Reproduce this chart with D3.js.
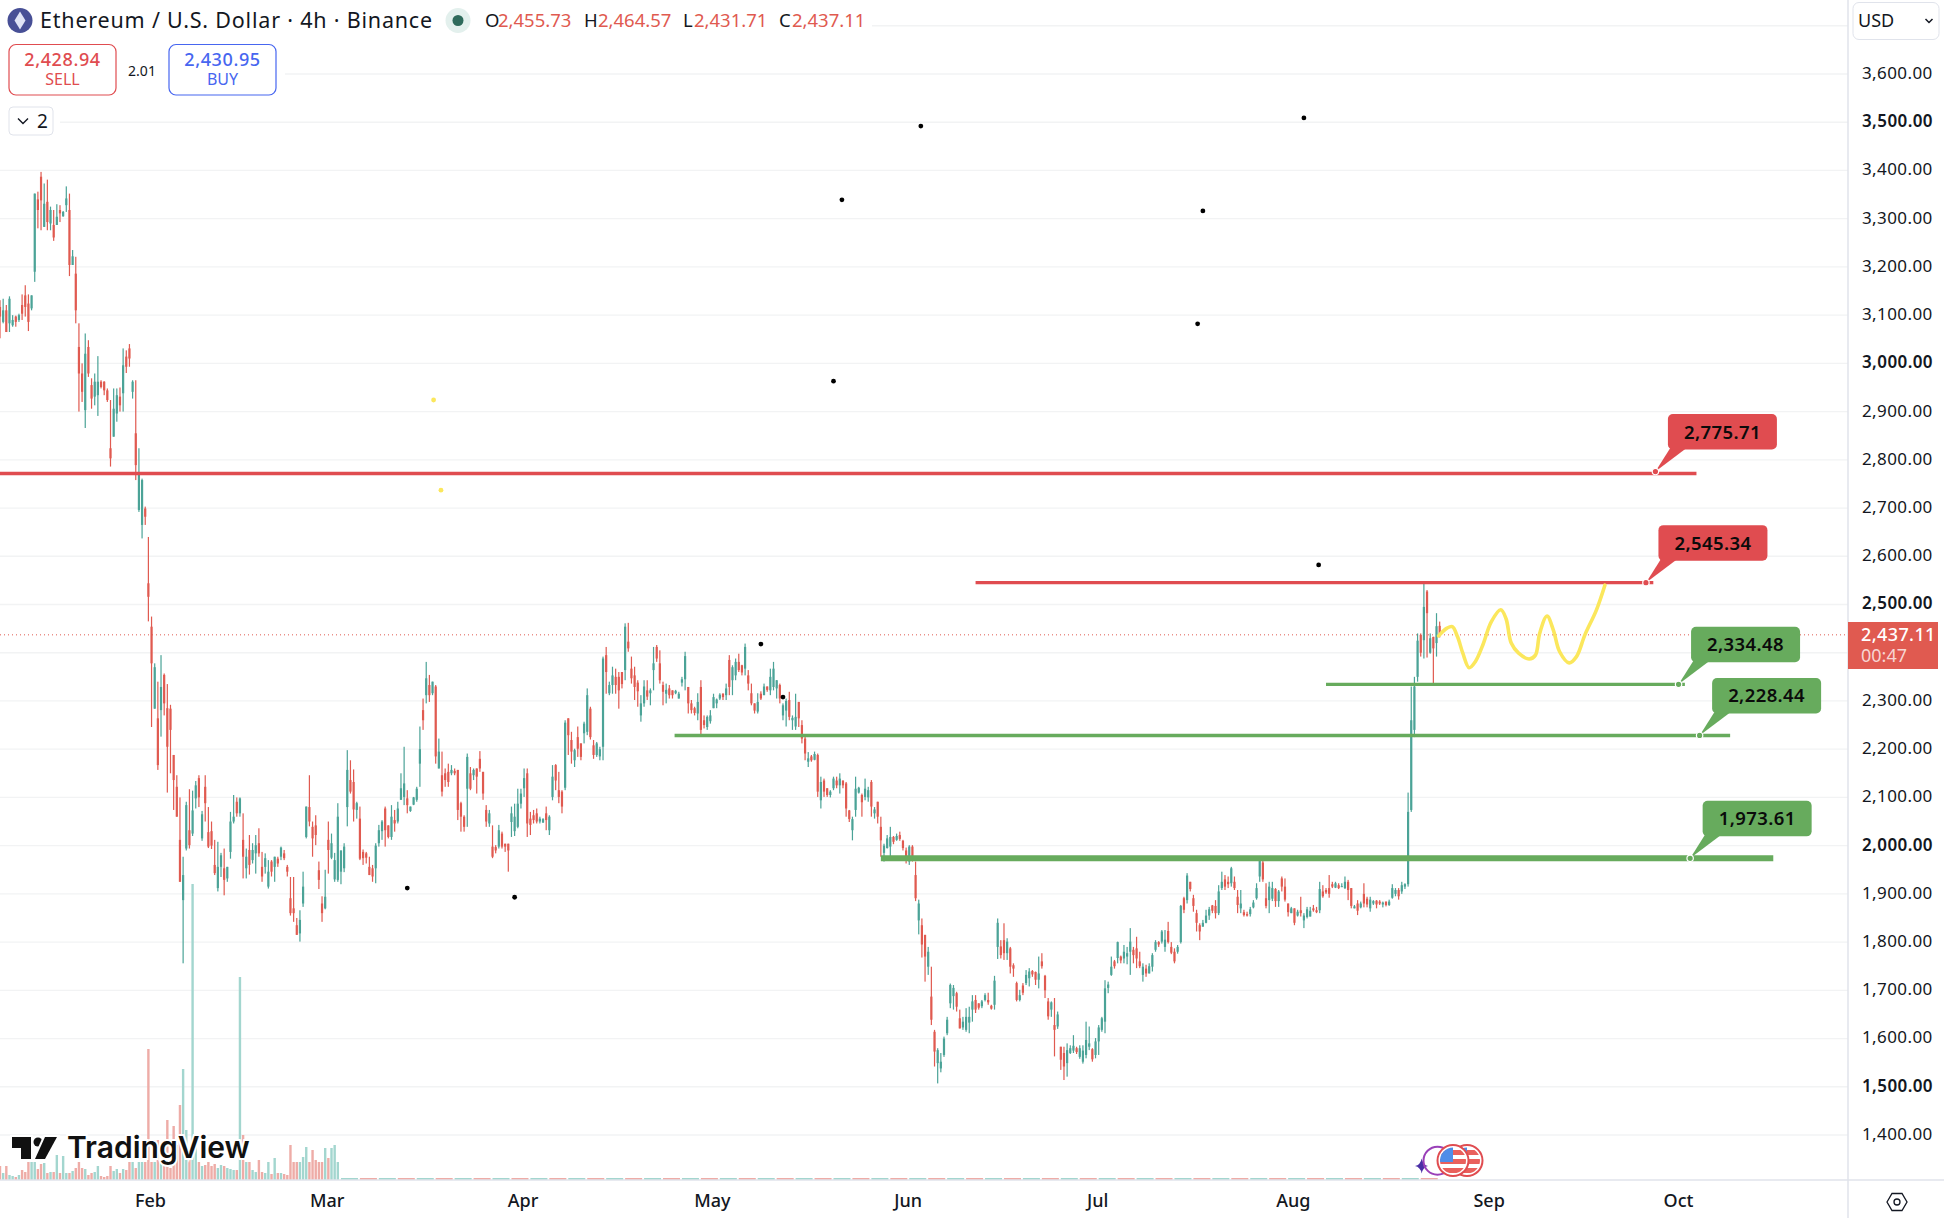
<!DOCTYPE html>
<html>
<head>
<meta charset="utf-8">
<script src="https://cdn.jsdelivr.net/npm/d3@7"></script>
<style>
  body { margin: 0; background: #fff; }
  svg { display: block; font-family: "Noto Sans", sans-serif; }
  .domain { display: none; }
</style>
</head>
<body>
<div id="chart"></div>
<script>
// candles, one every 3 bars (12h)
const opens = [
  3117,3086,3110,3083,3079,3097,3090,3121,3141,3124,
  3114,3190,3340,3387,3283,3335,3290,3287,3287,3318,
  3305,3328,3318,3204,3186,3034,2979,2903,3034,2955,
  2931,2934,2962,2962,2944,2824,2848,2896,2931,2938,
  3014,3031,2941,2855,2696,2665,2699,2544,2454,2284,
  2264,2281,2354,2285,2284,2188,2122,2012,1887,1994,
  2032,2025,2098,2140,2015,2122,2028,2030,1960,1912,
  1956,1953,1932,1987,2050,2091,2067,2012,1953,1991,
  1970,1984,2005,1956,1956,1915,1967,1956,1973,1977,
  1984,1956,1891,1870,1835,1818,1880,2018,2080,2039,
  2042,1949,1880,1870,2012,1975,1930,1929,1946,1953,
  2080,2136,2132,2074,2056,1987,1984,1956,1953,1953,
  2005,2030,2077,2042,2018,2053,2050,2095,2101,2098,
  2072,2085,2095,2170,2281,2312,2333,2316,2330,2160,
  2146,2150,2153,2150,2155,2157,2088,2060,2118,2150,
  2146,2160,2180,2153,2074,2046,1998,1997,1998,2025,
  2004,2004,2049,2030,2039,2087,2119,2150,2056,2063,
  2067,2050,2048,2067,2032,2101,2167,2115,2112,2120,
  2264,2219,2177,2225,2212,2233,2236,2284,2208,2188,
  2185,2205,2395,2316,2333,2350,2350,2360,2364,2423,
  2367,2353,2338,2270,2295,2322,2316,2364,2412,2378,
  2333,2315,2326,2322,2316,2305,2338,2345,2329,2295,
  2285,2274,2329,2260,2246,2258,2285,2295,2305,2315,
  2312,2385,2343,2353,2381,2374,2367,2353,2316,2295,
  2278,2315,2312,2330,2322,2329,2326,2333,2270,2280,
  2302,2260,2247,2298,2250,2222,2174,2185,2178,2188,
  2094,2135,2119,2105,2119,2135,2125,2135,2129,2073,
  2032,2074,2110,2105,2101,2100,2132,2067,2091,2039,
  1985,1995,1998,2018,2012,2022,2010,1990,1967,1998,
  1939,1845,1835,1815,1749,1687,1614,1549,1538,1566,
  1611,1673,1688,1694,1642,1623,1618,1633,1660,1680,
  1673,1667,1680,1680,1668,1670,1790,1791,1804,1777,
  1787,1752,1715,1680,1710,1715,1725,1740,1738,1722,
  1760,1730,1677,1660,1628,1625,1583,1570,1549,1570,
  1575,1580,1562,1552,1566,1583,1578,1566,1594,1618,
  1635,1705,1732,1760,1767,1770,1766,1770,1780,1784,
  1787,1760,1732,1745,1735,1749,1784,1800,1801,1790,
  1823,1790,1780,1780,1800,1891,1887,1925,1891,1860,
  1835,1832,1840,1855,1876,1875,1860,1912,1930,1925,
  1922,1925,1894,1870,1862,1858,1858,1872,1891,1936,
  1965,1891,1887,1890,1910,1885,1932,1915,1880,1860,
  1870,1855,1866,1845,1852,1853,1870,1866,1866,1905,
  1908,1912,1920,1913,1918,1915,1912,1925,1912,1870,
  1880,1872,1900,1890,1870,1880,1886,1884,1878,1884,
  1877,1892,1900,1908,1905,1915,1920,2074,2240,2350,
  2437,2426,2527,2400,2433,2420,2455.73
];
const highs = [
  3131,3134,3121,3139,3100,3099,3103,3143,3162,3143,
  3141,3352,3356,3397,3373,3381,3325,3318,3330,3328,
  3316,3367,3352,3235,3221,3083,3000,3062,3048,2969,
  2979,3015,2965,2963,2948,2924,2948,2948,2950,3031,
  3027,3040,2965,2965,2824,2761,2703,2640,2475,2378,
  2340,2395,2357,2335,2292,2188,2146,2100,1977,2091,
  2117,2114,2134,2146,2072,2146,2080,2050,2012,2008,
  1985,1994,1956,2070,2105,2100,2100,2067,1994,2022,
  2005,2022,2036,1987,1984,1970,1970,1977,1977,1998,
  1991,1960,1935,1935,1850,1866,1946,2081,2146,2050,
  2063,1967,1895,1950,2050,2025,1985,2088,1990,2005,
  2198,2177,2158,2091,2081,1992,1987,1977,1960,2005,
  2043,2053,2081,2042,2084,2074,2091,2150,2205,2115,
  2081,2101,2122,2247,2305,2381,2354,2340,2333,2222,
  2195,2160,2170,2167,2160,2157,2091,2063,2191,2163,
  2160,2160,2196,2153,2084,2074,2042,2001,2043,2029,
  2004,2004,2081,2087,2118,2118,2160,2160,2070,2074,
  2077,2060,2057,2081,2063,2167,2169,2153,2115,2260,
  2264,2236,2201,2247,2212,2257,2326,2288,2219,2215,
  2205,2392,2412,2340,2371,2367,2360,2360,2461,2462,
  2392,2371,2343,2312,2343,2343,2326,2412,2416,2405,
  2340,2336,2333,2322,2323,2319,2350,2402,2329,2302,
  2288,2316,2343,2270,2270,2281,2315,2305,2316,2316,
  2336,2395,2374,2388,2398,2375,2419,2364,2336,2295,
  2316,2320,2336,2330,2367,2381,2343,2336,2295,2305,
  2319,2270,2315,2298,2260,2229,2194,2188,2195,2191,
  2143,2139,2119,2115,2143,2143,2150,2135,2132,2074,
  2060,2143,2122,2108,2139,2122,2136,2080,2091,2060,
  2004,2022,2039,2020,2025,2029,2012,1996,2001,2001,
  1967,1888,1849,1815,1790,1749,1618,1580,1570,1604,
  1645,1714,1711,1697,1660,1645,1663,1666,1690,1690,
  1673,1680,1694,1695,1670,1730,1849,1804,1839,1808,
  1790,1756,1718,1701,1715,1742,1746,1742,1739,1770,
  1777,1732,1684,1677,1684,1656,1583,1583,1590,1586,
  1607,1583,1586,1586,1635,1625,1580,1601,1628,1645,
  1721,1718,1770,1763,1801,1772,1794,1790,1829,1790,
  1811,1780,1756,1753,1756,1777,1804,1802,1825,1825,
  1842,1800,1787,1794,1877,1894,1943,1925,1898,1867,
  1839,1846,1867,1873,1877,1887,1918,1946,1939,1936,
  1956,1936,1908,1908,1867,1863,1873,1887,1922,1977,
  1970,1922,1925,1925,1912,1908,1936,1932,1880,1873,
  1870,1867,1894,1860,1873,1873,1877,1873,1925,1918,
  1912,1939,1925,1925,1922,1922,1936,1929,1912,1877,
  1887,1884,1922,1894,1894,1887,1887,1887,1884,1884,
  1888,1920,1912,1912,1925,1922,2110,2330,2350,2440,
  2440,2544,2530,2440,2433,2482,2464.57
];
const lows = [
  3052,3083,3065,3065,3076,3076,3086,3090,3097,3067,
  3110,3169,3280,3276,3283,3276,3276,3254,3287,3293,
  3304,3314,3181,3204,3083,2900,2920,2866,2972,2906,
  2913,2891,2948,2934,2920,2786,2848,2879,2900,2900,
  2980,2993,2927,2758,2692,2637,2665,2465,2246,2284,
  2157,2226,2270,2110,2150,2074,2060,1925,1756,1990,
  1994,2020,2077,2080,2010,2050,1995,1993,1939,1905,
  1935,1897,1925,1973,2046,2060,2060,1932,1932,1940,
  1963,1942,1977,1925,1942,1911,1936,1925,1956,1970,
  1970,1936,1855,1842,1815,1801,1873,2015,2040,1977,
  2001,1910,1842,1868,1942,1972,1925,1925,1920,1945,
  2040,2108,2050,2056,1970,1960,1963,1939,1925,1922,
  1998,2012,1998,2015,2012,2029,2046,2095,2084,2067,
  2070,2084,2091,2122,2240,2295,2298,2312,2170,2160,
  2102,2122,2122,2146,2146,2053,2029,2029,2039,2115,
  2136,2108,2153,2095,2039,2039,1974,1984,1994,1994,
  1987,1946,2018,2020,2036,2077,2101,2018,2022,2046,
  2046,2046,2047,2032,2022,2094,2115,2088,2067,2115,
  2188,2170,2163,2184,2177,2212,2229,2220,2180,2184,
  2177,2177,2315,2312,2315,2315,2284,2326,2343,2402,
  2336,2302,2288,2257,2288,2302,2291,2322,2381,2336,
  2291,2295,2305,2305,2314,2305,2330,2322,2274,2274,
  2270,2260,2226,2243,2240,2253,2285,2285,2302,2302,
  2302,2312,2312,2343,2360,2353,2353,2322,2291,2274,
  2274,2302,2312,2319,2312,2322,2305,2295,2260,2247,
  2260,2240,2240,2246,2212,2177,2163,2174,2177,2101,
  2077,2101,2101,2100,2115,2119,2108,2119,2060,2049,
  2011,2060,2108,2060,2094,2091,2060,2056,2046,1977,
  1967,1994,1976,2003,2010,2010,1990,1963,1960,1967,
  1885,1816,1768,1718,1732,1628,1542,1507,1530,1562,
  1607,1663,1660,1656,1621,1618,1614,1611,1635,1653,
  1660,1663,1677,1670,1660,1660,1765,1766,1763,1763,
  1735,1728,1677,1677,1690,1711,1708,1728,1711,1704,
  1745,1684,1639,1645,1563,1620,1535,1514,1521,1568,
  1570,1568,1558,1548,1559,1576,1552,1559,1566,1614,
  1611,1694,1730,1745,1756,1756,1756,1754,1732,1756,
  1746,1746,1718,1728,1735,1739,1780,1790,1797,1780,
  1797,1775,1756,1776,1797,1860,1880,1905,1863,1822,
  1804,1832,1839,1846,1860,1849,1856,1908,1908,1912,
  1915,1908,1860,1860,1853,1853,1853,1870,1888,1925,
  1925,1870,1860,1885,1873,1873,1905,1884,1853,1860,
  1835,1853,1853,1829,1849,1853,1863,1860,1860,1892,
  1900,1892,1912,1912,1910,1914,1910,1887,1870,1870,
  1856,1870,1872,1872,1863,1877,1870,1877,1872,1874,
  1875,1890,1895,1888,1900,1910,1915,2070,2225,2340,
  2392,2388,2390,2398,2337,2392,2431.71
];
const closes = [
  3097,3110,3065,3134,3090,3086,3100,3103,3117,3086,
  3141,3352,3318,3338,3331,3293,3318,3261,3304,3311,
  3314,3342,3204,3222,3110,2979,2941,3020,2979,2927,
  2962,2962,2951,2944,2924,2803,2906,2934,2913,2996,
  2993,3010,2962,2789,2772,2758,2682,2516,2378,2370,
  2167,2329,2295,2205,2240,2136,2060,1925,1939,2084,
  2001,2073,2125,2100,2065,2088,1998,2000,1943,1956,
  1980,1929,1956,2050,2060,2067,2098,1977,1977,1960,
  1991,2001,1984,1936,1974,1946,1946,1977,1963,1996,
  1974,1946,1860,1860,1815,1846,1915,2081,2050,2015,
  2022,1929,1860,1894,1991,2005,1970,2060,1990,1998,
  2157,2112,2075,2088,1973,1974,1975,1939,1936,2000,
  2032,2050,2032,2018,2060,2046,2077,2119,2129,2084,
  2081,2100,2118,2200,2260,2347,2312,2340,2185,2195,
  2112,2136,2132,2157,2150,2074,2060,2039,2184,2118,
  2157,2143,2160,2108,2050,2067,1977,1990,2032,1998,
  1998,1990,2067,2060,2087,2108,2140,2046,2043,2053,
  2050,2056,2055,2053,2060,2143,2135,2101,2081,2255,
  2229,2195,2198,2201,2184,2253,2312,2225,2188,2212,
  2200,2388,2360,2333,2353,2333,2322,2335,2454,2409,
  2347,2329,2320,2295,2330,2309,2322,2378,2388,2343,
  2319,2323,2312,2312,2321,2315,2345,2393,2295,2281,
  2275,2298,2240,2250,2267,2270,2308,2303,2313,2308,
  2326,2329,2370,2381,2364,2359,2412,2336,2295,2280,
  2298,2305,2330,2323,2350,2367,2343,2305,2291,2300,
  2267,2265,2267,2264,2222,2191,2181,2177,2190,2112,
  2132,2112,2105,2112,2139,2125,2139,2125,2077,2055,
  2055,2118,2120,2090,2118,2115,2081,2075,2060,2011,
  2000,2015,2018,2008,2020,2014,1995,1970,1998,1975,
  1891,1880,1795,1770,1780,1639,1573,1576,1552,1600,
  1639,1711,1705,1666,1621,1635,1645,1645,1677,1660,
  1664,1677,1690,1675,1662,1720,1840,1773,1777,1801,
  1749,1745,1680,1690,1695,1732,1739,1733,1722,1735,
  1750,1700,1646,1675,1618,1650,1556,1542,1576,1580,
  1585,1572,1580,1575,1597,1590,1557,1594,1623,1642,
  1704,1712,1749,1750,1800,1762,1780,1777,1801,1773,
  1766,1750,1749,1735,1750,1773,1800,1795,1822,1805,
  1800,1778,1760,1790,1875,1867,1938,1910,1875,1840,
  1822,1840,1855,1868,1865,1860,1905,1925,1915,1920,
  1953,1912,1877,1880,1856,1855,1868,1882,1912,1970,
  1930,1875,1915,1912,1885,1905,1915,1888,1862,1870,
  1840,1863,1860,1855,1868,1865,1866,1862,1910,1895,
  1903,1900,1915,1922,1912,1916,1925,1908,1875,1874,
  1865,1880,1880,1878,1888,1885,1878,1880,1882,1877,
  1884,1912,1908,1895,1918,1920,2070,2260,2330,2425,
  2400,2495,2482,2430,2409,2455,2437.11
];

// volume for the first candles, the rest of the history is almost flat
const volumes = [
  14,7,14,5,4,3,5,10,8,18,
  18,18,11,16,17,7,8,8,25,7,
  24,7,7,9,12,18,12,11,5,7,
  8,14,4,3,4,14,9,11,7,11,
  10,18,18,12,18,18,18,131,18,18,
  40,20,14,60,12,54,35,75,111,50,
  30,296,45,18,14,15,18,14,16,12,
  15,14,12,11,10,10,203,45,18,18,
  10,8,20,8,7,18,6,22,7,7,
  6,5,35,18,18,18,23,33,18,30,
  20,18,18,32,22,32,35,18
];
const tailVolumes = [
  2,2,2,2,2,2,2,2,2,2,2,2,2,2,2,2,2,2,2,2,
  2,2,2,2,2,2,2,2,2,2,2,2,2,2,2,2,2,2,2,2,
  2,2,2,2,2,2,2,2,2,2,2,2,2,2,2,2,2,2
];

// 2,400.00 sits behind the price tag so it has no label
const priceTicks = [3600,3500,3400,3300,3200,3100,3000,2900,2800,2700,2600,2500,2300,2200,2100,2000,1900,1800,1700,1600,1500,1400];
const gridPrices = [3700,3600,3500,3400,3300,3200,3100,3000,2900,2800,2700,2600,2500,2400,2300,2200,2100,2000,1900,1800,1700,1600,1500,1400];
const monthTicks = [
  new Date(Date.UTC(2025,1,1)), new Date(Date.UTC(2025,2,1)), new Date(Date.UTC(2025,3,1)),
  new Date(Date.UTC(2025,4,1)), new Date(Date.UTC(2025,5,1)), new Date(Date.UTC(2025,6,1)),
  new Date(Date.UTC(2025,7,1)), new Date(Date.UTC(2025,8,1)), new Date(Date.UTC(2025,9,1))
];

// drawn levels: price, first bar, last bar, bar of the callout anchor
const levelPrices = [2775.71, 2545.34, 2334.48, 2228.44, 1973.61];
const levelStartBars = [0, 927, 1260, 641, 837];
const levelEndBars = [1612, 1571, 1601, 1644, 1685];
const levelAnchorBars = [1573, 1564, 1595, 1615, 1606];

// loose dots left on the chart
const blackDotBars = [875, 800, 1239, 1143, 1138, 792, 1253, 723, 744, 387, 489];
const blackDotPrices = [3492, 3339, 3509, 3316, 3082, 2963, 2582, 2418, 2308, 1912, 1893];
const yellowDotBars = [412, 419];
const yellowDotPrices = [2924, 2737];

// hand drawn yellow projection
const pathBars = [1367,1375,1380,1385,1390,1396,1402,1409,1417,1426,1431,1436,1443,1453,1459,1463,1470,1476,1482,1491,1498,1506,1517,1525];
const pathPrices = [2435,2451,2454,2433,2399,2369,2382,2416,2464,2489,2471,2420,2399,2387,2395,2440,2476,2447,2402,2379,2392,2437,2489,2540];

const lastPrice = 2437.11;

const width = 1944, height = 1218;
const plotRight = 1848, plotBottom = 1180;
const upColor = "#4ba397", downColor = "#e05a50";
const upVol = "#a3d6cf", downVol = "#eeaca7";
const redLevel = "#e04c50", greenLevel = "#67ab5d";
const textColor = "#131722";

const svg = d3.select("#chart").append("svg")
    .attr("width", width)
    .attr("height", height);

const startDate = new Date(Date.UTC(2025,0,8,6));
const barDate = b => d3.utcHour.offset(startDate, b * 4);

const x = d3.scaleUtc()
    .domain([startDate, barDate(1756)])
    .range([0, plotRight]);
const y = d3.scaleLinear()
    .domain([3600, 1400])
    .range([74, 1135]);
const yVol = d3.scaleLinear()
    .domain([0, 300])
    .range([plotBottom, plotBottom - 300]);
const xBar = b => x(barDate(b));

const candles = opens.map((o, i) => ({
    bar: i * 3, open: o, high: highs[i], low: lows[i], close: closes[i],
    up: closes[i] >= o
}));

// grid
svg.append("g").selectAll("line")
    .data(gridPrices)
    .enter().append("line")
    .attr("x1", 0)
    .attr("x2", plotRight)
    .attr("y1", d => y(d))
    .attr("y2", d => y(d))
    .attr("stroke", "#f2f3f4")
    .attr("stroke-width", 1.3);

// volume
svg.append("g").selectAll("rect")
    .data(volumes)
    .enter().append("rect")
    .attr("x", (d, i) => xBar(i * 3) - 1.2)
    .attr("width", 2.4)
    .attr("y", d => yVol(d))
    .attr("height", d => yVol(0) - yVol(d))
    .attr("fill", (d, i) => candles[i].up ? upVol : downVol);

svg.append("g").selectAll("rect")
    .data(tailVolumes)
    .enter().append("rect")
    .attr("x", (d, i) => xBar(volumes.length * 3 + i * 18))
    .attr("width", 17)
    .attr("y", d => yVol(d))
    .attr("height", d => yVol(0) - yVol(d))
    .attr("fill", (d, i) => i % 2 ? downVol : upVol);

// last price line
svg.append("line")
    .attr("x1", 0)
    .attr("x2", plotRight)
    .attr("y1", y(lastPrice))
    .attr("y2", y(lastPrice))
    .attr("stroke", downColor)
    .attr("stroke-width", 1)
    .attr("stroke-dasharray", "1 3");

// candles
const candleG = svg.append("g");
candleG.selectAll(".wick")
    .data(candles)
    .enter().append("rect")
    .attr("class", "wick")
    .attr("x", d => xBar(d.bar) - 0.6)
    .attr("width", 1.2)
    .attr("y", d => y(d.high))
    .attr("height", d => y(d.low) - y(d.high))
    .attr("fill", d => d.up ? upColor : downColor);
candleG.selectAll(".body")
    .data(candles)
    .enter().append("rect")
    .attr("class", "body")
    .attr("x", d => xBar(d.bar) - 1.1)
    .attr("width", 2.2)
    .attr("y", d => y(Math.max(d.open, d.close)))
    .attr("height", d => Math.max(1, Math.abs(y(d.open) - y(d.close))))
    .attr("fill", d => d.up ? upColor : downColor);

// drawn levels
levelPrices.forEach((p, i) => {
    const color = p > lastPrice ? redLevel : greenLevel;
    const ax = xBar(levelAnchorBars[i]);
    const ay = y(p);

    svg.append("line")
        .attr("x1", xBar(levelStartBars[i]))
        .attr("x2", xBar(levelEndBars[i]))
        .attr("y1", ay + (i === 0 ? 2 : 0))
        .attr("y2", ay + (i === 0 ? 2 : 0))
        .attr("stroke", color)
        .attr("stroke-width", i === 4 ? 6 : 3.4);

    const boxX = ax + 12.5, boxY = ay - 57.5;
    svg.append("path")
        .attr("d", `M${ax},${ay}L${boxX + 3},${boxY + 33}L${boxX + 20},${boxY + 33}Z`)
        .attr("fill", color);
    svg.append("rect")
        .attr("x", boxX)
        .attr("y", boxY)
        .attr("width", 109)
        .attr("height", 35.5)
        .attr("rx", 5)
        .attr("fill", color);
    svg.append("text")
        .attr("x", boxX + 54.5)
        .attr("y", boxY + 18)
        .attr("dy", "0.35em")
        .attr("text-anchor", "middle")
        .style("font-size", "18.5px")
        .style("font-weight", 600)
        .style("letter-spacing", "0.4px")
        .attr("fill", "#0b0b0b")
        .text(d3.format(",.2f")(p));
    svg.append("circle")
        .attr("cx", ax)
        .attr("cy", ay)
        .attr("r", 3.2)
        .attr("fill", color)
        .attr("stroke", "#fff")
        .attr("stroke-width", 1.2);
});

// yellow projection
svg.append("path")
    .datum(pathBars.map((b, i) => [b, pathPrices[i]]))
    .attr("d", d3.line().x(d => xBar(d[0])).y(d => y(d[1])).curve(d3.curveCatmullRom))
    .attr("fill", "none")
    .attr("stroke", "#fbe75c")
    .attr("stroke-width", 3.6)
    .attr("stroke-linecap", "round");

// loose dots
svg.append("g").selectAll("circle")
    .data(blackDotBars)
    .enter().append("circle")
    .attr("cx", d => xBar(d))
    .attr("cy", (d, i) => y(blackDotPrices[i]))
    .attr("r", 2.4)
    .attr("fill", "#000");
svg.append("g").selectAll("circle")
    .data(yellowDotBars)
    .enter().append("circle")
    .attr("cx", d => xBar(d))
    .attr("cy", (d, i) => y(yellowDotPrices[i]))
    .attr("r", 2.4)
    .attr("fill", "#fbe75c");

// TradingView watermark
const logo = svg.append("g")
    .attr("fill", "#111")
    .attr("stroke", "#fff")
    .attr("stroke-width", 4)
    .style("paint-order", "stroke");
logo.append("path").attr("d", "M12,1137H31V1159H21V1148H12Z");
logo.append("circle").attr("cx", 38).attr("cy", 1142).attr("r", 4.5);
logo.append("path").attr("d", "M45,1137H57L45,1159H35Z");
logo.append("text")
    .attr("x", 67)
    .attr("y", 1158)
    .style("font-family", "Inter, sans-serif")
    .style("font-size", "30px")
    .style("font-weight", 600)
    .text("TradingView");

// event icons
const defs = svg.append("defs");
[1467, 1453].forEach((cx, i) => {
    defs.append("clipPath").attr("id", "flag" + i)
        .append("circle").attr("cx", cx).attr("cy", 1160.6).attr("r", 13);
});
svg.append("path")
    .attr("d", "M1421.7,1158.5Q1423,1165 1428,1166Q1423,1167 1421.7,1173.5Q1420.4,1167 1415,1166Q1420.4,1165 1421.7,1158.5Z")
    .attr("fill", "#4a2fa6");
svg.append("circle")
    .attr("cx", 1437.5).attr("cy", 1160.7).attr("r", 14)
    .attr("fill", "none").attr("stroke", "#9a40b8").attr("stroke-width", 2);
[1467, 1453].forEach((cx, i) => {
    const flag = svg.append("g");
    flag.append("circle").attr("cx", cx).attr("cy", 1160.6).attr("r", 15.5)
        .attr("fill", "#fff").attr("stroke", "#e04c50").attr("stroke-width", 2);
    const inner = flag.append("g").attr("clip-path", `url(#flag${i})`);
    [1150, 1159, 1168].forEach(sy => {
        inner.append("rect").attr("x", cx - 14).attr("y", sy).attr("width", 28).attr("height", 5).attr("fill", "#e9605c");
    });
    inner.append("rect").attr("x", cx - 14).attr("y", 1147).attr("width", 14).attr("height", 15).attr("fill", "#4f8de8");
});

// axes
svg.append("rect").attr("x", plotRight).attr("y", 0).attr("width", width - plotRight).attr("height", height).attr("fill", "#fff");
svg.append("rect").attr("x", 0).attr("y", plotBottom).attr("width", width).attr("height", height - plotBottom).attr("fill", "#fff");

const yAxis = d3.axisRight(y)
    .tickValues(priceTicks)
    .tickFormat(d3.format(",.2f"))
    .tickSize(0)
    .tickPadding(14);
svg.append("g")
    .attr("transform", `translate(${plotRight},-1)`)
    .call(yAxis)
    .selectAll("text")
    .style("font-family", '"Noto Sans", sans-serif')
    .style("font-size", "17px")
    .style("letter-spacing", "0.4px")
    .style("font-weight", d => d % 500 === 0 ? 600 : 400)
    .attr("fill", textColor);

const xAxis = d3.axisBottom(x)
    .tickValues(monthTicks)
    .tickFormat(d3.utcFormat("%b"))
    .tickSize(0)
    .tickPadding(14);
svg.append("g")
    .attr("transform", `translate(0,${plotBottom})`)
    .call(xAxis)
    .selectAll("text")
    .style("font-family", '"Noto Sans", sans-serif')
    .style("font-size", "18px")
    .style("font-weight", 500)
    .attr("fill", textColor);

svg.append("line").attr("x1", plotRight).attr("x2", plotRight).attr("y1", 0).attr("y2", height).attr("stroke", "#e0e3eb").attr("stroke-width", 1.5);
svg.append("line").attr("x1", 0).attr("x2", width).attr("y1", plotBottom).attr("y2", plotBottom).attr("stroke", "#e0e3eb").attr("stroke-width", 1.5);

// price tag on the axis
svg.append("rect")
    .attr("x", plotRight).attr("y", 622).attr("width", 90).attr("height", 47)
    .attr("fill", downColor);
svg.append("text")
    .attr("x", plotRight + 13).attr("y", 641)
    .style("font-size", "18px").style("font-weight", 500)
    .style("letter-spacing", "0.4px")
    .attr("fill", "#fff")
    .text("2,437.11");
svg.append("text")
    .attr("x", plotRight + 13).attr("y", 662)
    .style("font-size", "18px")
    .attr("fill", "#f7d5d2")
    .text("00:47");

// settings icon
svg.append("path")
    .attr("d", "M1887,1202L1892,1193.5H1902L1907,1202L1902,1210.5H1892Z")
    .attr("fill", "none").attr("stroke", textColor).attr("stroke-width", 1.3);
svg.append("circle")
    .attr("cx", 1897).attr("cy", 1202).attr("r", 3)
    .attr("fill", "none").attr("stroke", textColor).attr("stroke-width", 1.3);

// USD selector
svg.append("rect")
    .attr("x", 1853).attr("y", 2.5).attr("width", 86).attr("height", 37).attr("rx", 6)
    .attr("fill", "#fff").attr("stroke", "#e0e3eb");
svg.append("text")
    .attr("x", 1858).attr("y", 27)
    .style("font-size", "18px")
    .attr("fill", textColor)
    .text("USD");
svg.append("path")
    .attr("d", "M1925.5,19L1929,22.5L1932.5,19")
    .attr("fill", "none").attr("stroke", textColor).attr("stroke-width", 1.5);

// header
svg.append("rect").attr("x", 0).attr("y", 0).attr("width", 872).attr("height", 40).attr("fill", "#fff");
svg.append("rect").attr("x", 0).attr("y", 40).attr("width", 285).attr("height", 62).attr("fill", "#fff");
svg.append("rect").attr("x", 0).attr("y", 102).attr("width", 60).attr("height", 38).attr("fill", "#fff");

svg.append("circle").attr("cx", 20).attr("cy", 20.5).attr("r", 12.5).attr("fill", "#474f96");
svg.append("path").attr("d", "M20,11.5L25.5,20.5L20,29.5L14.5,20.5Z").attr("fill", "#dfe3f5");
svg.append("text")
    .attr("x", 40).attr("y", 28)
    .style("font-size", "21.5px")
    .style("letter-spacing", "0.8px")
    .attr("fill", textColor)
    .text("Ethereum / U.S. Dollar · 4h · Binance");

svg.append("circle").attr("cx", 458).attr("cy", 20.5).attr("r", 12.5).attr("fill", "#e3f0ed");
svg.append("circle").attr("cx", 458).attr("cy", 20.5).attr("r", 5.5).attr("fill", "#2e6a5b");

const ohlcLetters = ["O", "H", "L", "C"];
const ohlcValues = ["2,455.73", "2,464.57", "2,431.71", "2,437.11"];
const ohlcLetterX = [485, 584, 683, 779];
const ohlcValueX = [498, 598, 694, 792];
ohlcLetters.forEach((l, i) => {
    svg.append("text").attr("x", ohlcLetterX[i]).attr("y", 27).style("font-size", "18.5px").attr("fill", textColor).text(l);
    svg.append("text").attr("x", ohlcValueX[i]).attr("y", 27).style("font-size", "18.5px").attr("fill", downColor).text(ohlcValues[i]);
});

const tradeBox = (bx, color, price, side) => {
    svg.append("rect")
        .attr("x", bx).attr("y", 44.5).attr("width", 107).attr("height", 50.5).attr("rx", 7)
        .attr("fill", "#fff").attr("stroke", color).attr("stroke-width", 1.2);
    svg.append("text")
        .attr("x", bx + 53.5).attr("y", 65.5).attr("text-anchor", "middle")
        .style("font-size", "18px").style("font-weight", 500)
        .style("letter-spacing", "0.6px")
        .attr("fill", color).text(price);
    svg.append("text")
        .attr("x", bx + 53.5).attr("y", 85).attr("text-anchor", "middle")
        .style("font-size", "16px")
        .attr("fill", color).text(side);
};
tradeBox(9, "#e04c50", "2,428.94", "SELL");
tradeBox(169, "#4766f0", "2,430.95", "BUY");
svg.append("text")
    .attr("x", 142).attr("y", 76).attr("text-anchor", "middle")
    .style("font-size", "14px").attr("fill", textColor).text("2.01");

svg.append("rect")
    .attr("x", 9).attr("y", 107).attr("width", 44).attr("height", 28).attr("rx", 4)
    .attr("fill", "#fff").attr("stroke", "#e0e3eb");
svg.append("path")
    .attr("d", "M18,118.5L23,123.5L28,118.5")
    .attr("fill", "none").attr("stroke", textColor).attr("stroke-width", 1.4);
svg.append("text")
    .attr("x", 37).attr("y", 128)
    .style("font-size", "19px").attr("fill", textColor).text("2");
</script>
</body>
</html>
